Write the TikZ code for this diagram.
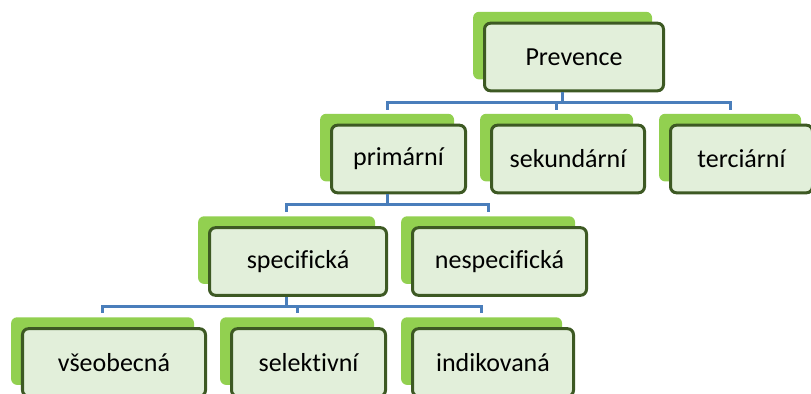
\documentclass[tikz,border=0pt]{standalone}
\usepackage{fontspec}
\setmainfont{Carlito}[Ligatures=NoCommon]
\usetikzlibrary{shadows}
\definecolor{leafgreen}{RGB}{146,208,80}
\definecolor{palegreen}{RGB}{226,239,218}
\definecolor{edgegreen}{RGB}{61,89,35}
\definecolor{linkblue}{RGB}{74,126,187}
\begin{document}
\begin{tikzpicture}[
  x = 0.5pt, y = -0.5pt,
  every node/.style = {font=\fontsize{13}{15}\selectfont},
  box/.style = {draw=edgegreen, line width=1.5pt, fill=palegreen,
                rounded corners=3pt, align=center, inner sep=2pt,
                minimum height=33.8pt,
                general shadow={fill=leafgreen, shadow xshift=-5.7pt,
                                shadow yshift=5.7pt}},
  link/.style = {draw=linkblue, line width=1.4pt},
]
\useasboundingbox (0,0) rectangle (811,394);

% --- Top -----------------------------------------------------------------
\node[box, minimum width=89.5pt] (prev) at (574,57) {Prevence};

% --- Second row ----------------------------------------------------------
\node[box, minimum width=67pt]   (prim) at (398.5,159) {primární};
\node[box, minimum width=76.5pt] (sek)  at (568,159)   {sekundární};
\node[box, minimum width=71pt]   (terc) at (741.5,159) {terciární};
\draw[link] ([xshift=-5.7pt]prev.south) -- ++(0,10) -| ([shift={(-5.7pt,7pt)}]prim.north);
\draw[link] ([xshift=-5.7pt]prev.south) -- ++(0,10) -| ([shift={(-5.7pt,7pt)}]sek.north);
\draw[link] ([xshift=-5.7pt]prev.south) -- ++(0,10) -| ([shift={(-5.7pt,7pt)}]terc.north);

% --- Third row -----------------------------------------------------------
\node[box, minimum width=88.5pt] (spec) at (298,261.5)   {specifická};
\node[box, minimum width=87pt]   (nesp) at (499.5,261.5) {nespecifická};
\draw[link] ([xshift=-5.7pt]prim.south) -- ++(0,10) -| ([shift={(-5.7pt,7pt)}]spec.north);
\draw[link] ([xshift=-5.7pt]prim.south) -- ++(0,10) -| ([shift={(-5.7pt,7pt)}]nesp.north);

% --- Bottom row ----------------------------------------------------------
\node[box, minimum width=91.5pt] (vseo) at (114,362.5) {všeobecná};
\node[box, minimum width=77pt]   (sel)  at (308.5,362.5) {selektivní};
\node[box, minimum width=80.5pt] (ind)  at (493,362.5) {indikovaná};
\draw[link] ([xshift=-5.7pt]spec.south) -- ++(0,10) -| ([shift={(-5.7pt,7pt)}]vseo.north);
\draw[link] ([xshift=-5.7pt]spec.south) -- ++(0,10) -| ([shift={(-5.7pt,7pt)}]sel.north);
\draw[link] ([xshift=-5.7pt]spec.south) -- ++(0,10) -| ([shift={(-5.7pt,7pt)}]ind.north);

\end{tikzpicture}
\end{document}
